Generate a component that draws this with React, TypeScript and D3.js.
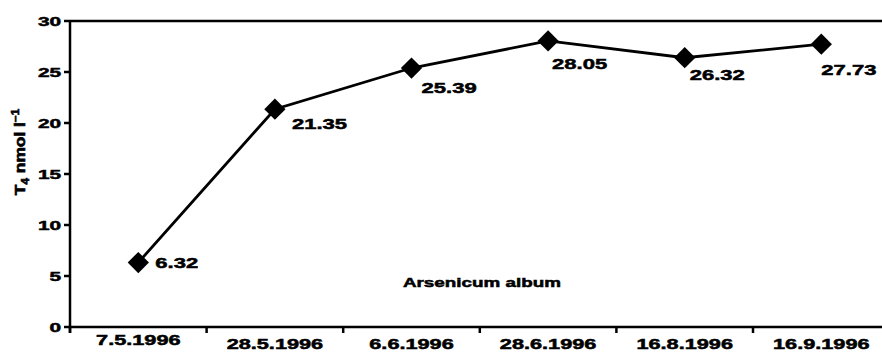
import React from "react";
import * as d3 from "d3";

const categories = ["7.5.1996", "28.5.1996", "6.6.1996", "28.6.1996", "16.8.1996", "16.9.1996"];
const values = [6.32, 21.35, 25.39, 28.05, 26.4, 27.73];
const valueLabels = ["6.32", "21.35", "25.39", "28.05", "26.32", "27.73"];
const yTicks = [0, 5, 10, 15, 20, 25, 30];
const seriesName = "Arsenicum album";

// layout-only offsets for the value labels (dx, dy from the marker centre)
const labelOffsets: [number, number][] = [
  [17, 5],
  [17, 20],
  [10, 25],
  [4, 28],
  [5, 22],
  [0, 31],
];

const W = 882;
const H = 360;
const left = 70;
const top = 21;
const bottom = 327;
const FONT = "'Liberation Sans', Arial, sans-serif";
const TS = { stroke: "#000", strokeWidth: 0.5 };

export default function App() {
  const x = d3.scaleBand<string>().domain(categories).range([left, 889.6]).padding(0);
  const y = d3.scaleLinear().domain([0, 30]).range([bottom, top]);
  const cx = (c: string) => (x(c) as number) + x.bandwidth() / 2;
  const line = d3
    .line<number>()
    .x((_, i) => cx(categories[i]))
    .y((d) => y(d));
  const diamond = d3.symbol().type(d3.symbolDiamond2).size(2 * 12 * 12);
  const boundaries = categories.map((c) => x(c) as number);

  return (
    <svg
      width={W}
      height={H}
      style={{ position: "absolute", left: 0, top: 0, background: "#fff" }}
      fontFamily={FONT}
      fontWeight="bold"
    >
      {/* axes */}
      <line x1={left} x2={W} y1={top} y2={top} stroke="#000" strokeWidth={2.5} />
      <line x1={left} x2={W} y1={bottom} y2={bottom} stroke="#000" strokeWidth={2.5} />
      <line x1={left} x2={left} y1={top - 1} y2={bottom + 6} stroke="#000" strokeWidth={2.5} />
      {yTicks.map((t) => (
        <g key={t}>
          <line x1={left - 6} x2={left} y1={y(t)} y2={y(t)} stroke="#000" strokeWidth={2.5} />
          <g transform={`translate(${left - 9},${y(t) + 4.7}) scale(1.6,1)`}>
            <text textAnchor="end" fontSize={13} fill="#000" {...TS}>
              {t}
            </text>
          </g>
        </g>
      ))}
      {boundaries.map((b, i) => (
        <line key={i} x1={b} x2={b} y1={bottom} y2={bottom + 6} stroke="#000" strokeWidth={2.5} />
      ))}
      {categories.map((c, i) => (
        <g key={c} transform={`translate(${cx(c)},${i === 0 ? 345 : 349}) scale(1.55,1)`}>
          <text textAnchor="middle" fontSize={14} fill="#000" {...TS}>
            {c}
          </text>
        </g>
      ))}

      {/* y title */}
      <g transform={`translate(25,152) rotate(-90) scale(1.45,1.25)`}>
        <text textAnchor="middle" fontSize={12} fill="#000" {...TS}>
          T
          <tspan fontSize={8} dy={3}>
            4
          </tspan>
          <tspan dy={-3}> nmol l</tspan>
          <tspan fontSize={8} dy={-5}>
            −1
          </tspan>
        </text>
      </g>

      {/* series */}
      <path d={line(values) || ""} fill="none" stroke="#000" strokeWidth={2.8} />
      {values.map((v, i) => (
        <path
          key={i}
          d={diamond() || ""}
          transform={`translate(${cx(categories[i])},${y(v)})`}
          fill="#000"
        />
      ))}
      {values.map((v, i) => (
        <g
          key={i}
          transform={`translate(${cx(categories[i]) + labelOffsets[i][0]},${y(v) + labelOffsets[i][1]}) scale(1.47,1)`}
        >
          <text fontSize={15} fill="#000" {...TS}>
            {valueLabels[i]}
          </text>
        </g>
      ))}

      <g transform={`translate(482,287) scale(1.45,1)`}>
        <text textAnchor="middle" fontSize={13} fill="#000" {...TS}>
          {seriesName}
        </text>
      </g>
    </svg>
  );
}
